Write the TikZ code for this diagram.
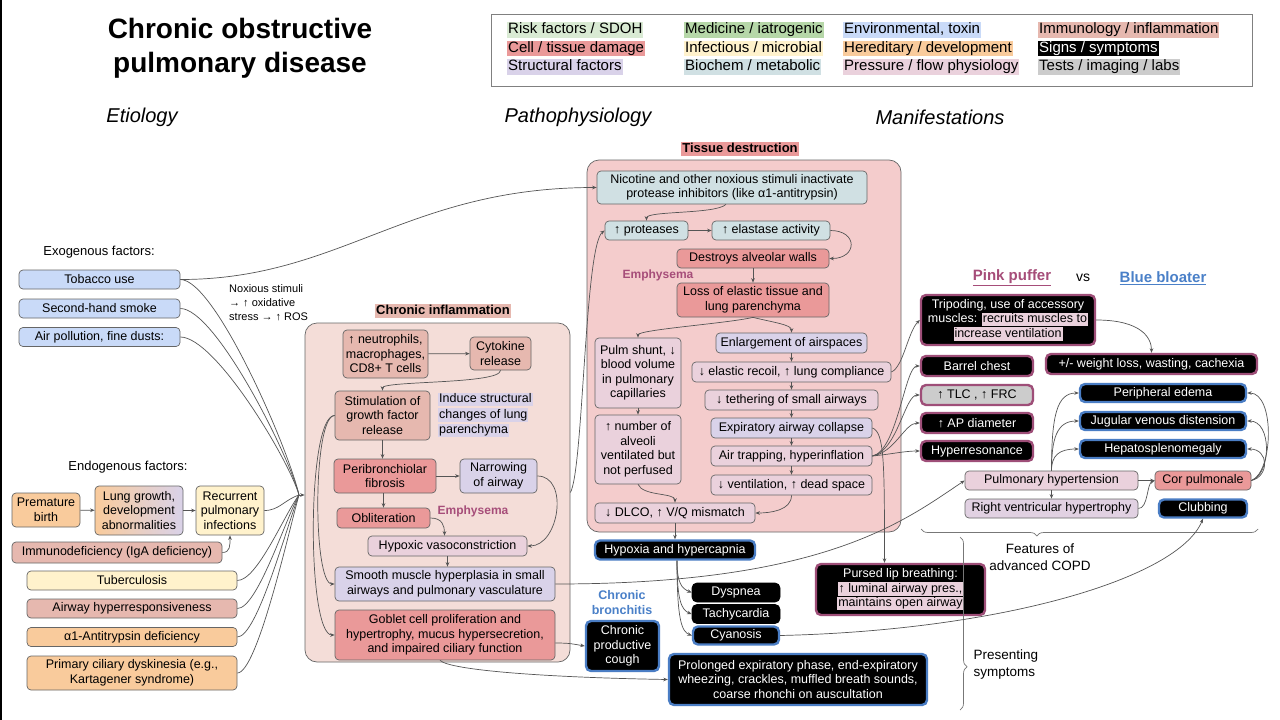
\documentclass[tikz,border=0pt]{standalone}
\usepackage{fontspec}
\setmainfont{Liberation Sans}
\usetikzlibrary{arrows.meta,calc,decorations.pathreplacing}
\definecolor{cRisk}{HTML}{D9EAD3}
\definecolor{cMed}{HTML}{B6D7A8}
\definecolor{cEnv}{HTML}{C9DAF8}
\definecolor{cImm}{HTML}{E6B8AF}
\definecolor{cCell}{HTML}{EA9999}
\definecolor{cInf}{HTML}{FFF2CC}
\definecolor{cHer}{HTML}{F9CB9C}
\definecolor{cStr}{HTML}{D9D2E9}
\definecolor{cBio}{HTML}{D0E0E3}
\definecolor{cPres}{HTML}{EAD1DC}
\definecolor{cTest}{HTML}{CCCCCC}
\definecolor{cCIbg}{HTML}{F4DDD8}
\definecolor{cTDbg}{HTML}{F4CCCC}
\definecolor{cBord}{HTML}{666666}
\definecolor{cLine}{HTML}{555555}
\definecolor{cBlue}{HTML}{4A7DC4}
\definecolor{cPink}{HTML}{9E4E78}
\definecolor{cEmph}{HTML}{A64D79}
\definecolor{cBlueT}{HTML}{4A80C8}
\definecolor{cBrace}{HTML}{777777}
\setlength{\fboxsep}{1pt}
\newcommand\fsz[2]{\fontsize{#1}{#2}\selectfont}
\newcommand\hlc[2]{\colorbox{#1}{#2\vphantom{Ay}}}
\begin{document}
\begin{tikzpicture}[x=1pt,y=-1pt,
 bx/.style={draw=cBord, line width=0.7pt, rounded corners=4pt, align=center, inner sep=1pt, font=\fsz{12.5}{14.5}},
 sz/.style 2 args={minimum width=#1pt, minimum height=#2pt},
 sy/.style={fill=black, text=white, rounded corners=5pt, line width=2.4pt, align=center, inner sep=1pt, font=\fsz{12.5}{14.5}},
 syb/.style={sy, draw=cBlue},
 syp/.style={sy, draw=cPink},
 syk/.style={sy, draw=black, line width=0.8pt},
 con/.style={draw=cLine, line width=0.7pt},
 arr/.style={con, -{Stealth[length=4.5pt,width=3.6pt]}},
 lbl/.style={font=\fsz{13}{15.5}, align=center},
 cont/.style={draw=cBord, line width=0.7pt, rounded corners=12pt},
 leg/.style={font=\fsz{15}{17}, inner sep=0pt, anchor=west},
 sec/.style={font=\itshape\fsz{20}{24}},
 brc/.style={draw=cBrace, line width=0.7pt, decorate},
]
\fill[white] (0,0) rectangle (1280,720);
\useasboundingbox (0,0) rectangle (1280,720);
\draw[black, line width=1.5pt] (0.75,0) -- (0.75,720);

% ---------- title and legend ----------
\node[font=\bfseries\fsz{28}{34}, align=center] (title) at (240,48) {Chronic obstructive\\pulmonary disease};
\node[draw=gray, line width=0.8pt, sz={761}{72}] (legend) at (871.5,50) {};
\node[leg] (l1) at (507,30) {\hlc{cRisk}{Risk factors / SDOH}};
\node[leg] (l2) at (507,48.5) {\hlc{cCell}{Cell / tissue damage}};
\node[leg] (l3) at (507,67) {\hlc{cStr}{Structural factors}};
\node[leg] (l4) at (684,30) {\hlc{cMed}{Medicine / iatrogenic}};
\node[leg] (l5) at (684,48.5) {\hlc{cInf}{Infectious / microbial}};
\node[leg] (l6) at (684,67) {\hlc{cBio}{Biochem / metabolic}};
\node[leg] (l7) at (843,30) {\hlc{cEnv}{Environmental, toxin}};
\node[leg] (l8) at (843,48.5) {\hlc{cHer}{Hereditary / development}};
\node[leg] (l9) at (843,67) {\hlc{cPres}{Pressure / flow physiology}};
\node[leg] (l10) at (1038,30) {\hlc{cImm}{Immunology / inflammation}};
\node[leg] (l11) at (1038,48.5) {\hlc{black}{\color{white}Signs / symptoms}};
\node[leg] (l12) at (1038,67) {\hlc{cTest}{Tests / imaging / labs}};

% ---------- section headings ----------
\node[sec] (etio) at (142,117) {Etiology};
\node[sec] (patho) at (578,117) {Pathophysiology};
\node[sec] (mani) at (940,117) {Manifestations};

% ---------- etiology ----------
\node[lbl] (exo) at (99,252) {Exogenous factors:};
\node[bx, fill=cEnv, sz={161}{19}] (tob) at (99.5,279.5) {Tobacco use};
\node[bx, fill=cEnv, sz={161}{19}] (shs) at (99.5,308.5) {Second-hand smoke};
\node[bx, fill=cEnv, sz={161}{19}] (air) at (99.5,337) {Air pollution, fine dusts:};
\node[font=\fsz{11}{14}, align=left, anchor=north west, inner sep=0pt] (nox) at (229,284) {Noxious stimuli\\→ ↑ oxidative\\stress → ↑ ROS};

\node[lbl] (endo) at (128,467) {Endogenous factors:};
\node[bx, fill=cHer, sz={68}{34}] (prem) at (46,510) {Premature\\birth};
\node[bx, left color=cHer, right color=cStr, sz={88}{49}] (lung) at (139,510.5) {Lung growth,\\development\\abnormalities};
\node[bx, fill=cInf, sz={68}{49}] (recur) at (230,510.5) {Recurrent\\pulmonary\\infections};
\node[bx, fill=cImm, sz={210}{21}] (immu) at (117,552.5) {Immunodeficiency (IgA deficiency)};
\node[bx, fill=cInf, sz={210}{19}] (tb) at (132,580.5) {Tuberculosis};
\node[bx, fill=cImm, sz={210}{19}] (ahr) at (132,608.5) {Airway hyperresponsiveness};
\node[bx, fill=cHer, sz={210}{19}] (a1at) at (132,637) {α1-Antitrypsin deficiency};
\node[bx, fill=cHer, sz={210}{34}] (pcd) at (132,673) {Primary ciliary dyskinesia (e.g.,\\Kartagener syndrome)};

% ---------- chronic inflammation ----------
\node[cont, fill=cCIbg, sz={265}{339}] (ci) at (437.5,492.5) {};
\node[font=\bfseries\fsz{13}{15}, inner sep=0pt] (cih) at (443,311) {\hlc{cImm}{Chronic inflammation}};
\node[bx, fill=cImm, sz={85}{48}] (neut) at (385.5,354) {↑ neutrophils,\\macrophages,\\CD8+ T cells};
\node[bx, fill=cImm, sz={61}{33}] (cyt) at (500.5,353.5) {Cytokine\\release};
\node[bx, fill=cImm, sz={95}{49}] (stim) at (382.5,415.5) {Stimulation of\\growth factor\\release};
\node[font=\fsz{12.5}{15.5}, align=left, anchor=west, inner sep=0pt] (induce) at (438,415) {\hlc{cStr}{Induce structural}\\\hlc{cStr}{changes of lung}\\\hlc{cStr}{parenchyma}};
\node[bx, fill=cCell, sz={102}{34}] (peri) at (385,476) {Peribronchiolar\\fibrosis};
\node[bx, fill=cStr, sz={77}{34}] (narrow) at (498.5,476) {Narrowing\\of airway};
\node[bx, fill=cCell, sz={93}{20}] (oblit) at (383.5,518) {Obliteration};
\node[font=\bfseries\fsz{12}{14}, text=cEmph] (emph1) at (473,511) {Emphysema};
\node[bx, fill=cPres, sz={159}{20}] (hyp) at (447.5,546) {Hypoxic vasoconstriction};
\node[bx, fill=cStr, sz={220}{34}] (smooth) at (445,584) {Smooth muscle hyperplasia in small\\airways and pulmonary vasculature};
\node[bx, fill=cCell, sz={220}{50}] (goblet) at (445,635) {Goblet cell proliferation and\\hypertrophy, mucus hypersecretion,\\and impaired ciliary function};

% ---------- tissue destruction ----------
\node[cont, fill=cTDbg, sz={314}{372}] (td) at (744,346) {};
\node[font=\bfseries\fsz{13}{15}, inner sep=0pt] (tdh) at (740,149) {\hlc{cCell}{Tissue destruction}};
\node[bx, fill=cBio, sz={270}{33}] (nic) at (732,187.5) {Nicotine and other noxious stimuli inactivate\\protease inhibitors (like α1-antitrypsin)};
\node[bx, fill=cBio, sz={83}{19}] (prot) at (646.5,230.5) {↑ proteases};
\node[bx, fill=cBio, sz={118}{19}] (elast) at (771,230.5) {↑ elastase activity};
\node[bx, fill=cCell, sz={152}{19}] (destr) at (753,258.5) {Destroys alveolar walls};
\node[font=\bfseries\fsz{12}{14}, text=cEmph] (emph2) at (658,275) {Emphysema};
\node[bx, fill=cCell, sz={152}{34}] (loss) at (753,300) {Loss of elastic tissue and\\lung parenchyma};
\node[bx, fill=cPres, sz={86}{70}] (pulm) at (638,373) {Pulm shunt, ↓\\blood volume\\in pulmonary\\capillaries};
\node[bx, fill=cPres, sz={86}{69}] (alv) at (638,449.5) {↑ number of\\alveoli\\ventilated but\\not perfused};
\node[bx, fill=cStr, sz={151}{20}] (enl) at (791.5,343) {Enlargement of airspaces};
\node[bx, fill=cPres, sz={199}{20}] (elr) at (791.5,372) {↓ elastic recoil, ↑ lung compliance};
\node[bx, fill=cPres, sz={173}{20}] (teth) at (791.5,400) {↓ tethering of small airways};
\node[bx, fill=cStr, sz={161}{20}] (coll) at (791.5,428) {Expiratory airway collapse};
\node[bx, fill=cPres, sz={161}{20}] (trap) at (791.5,456) {Air trapping, hyperinflation};
\node[bx, fill=cPres, sz={161}{20}] (vent) at (791.5,485) {↓ ventilation, ↑ dead space};
\node[bx, fill=cPres, sz={160}{20}] (dlco) at (675,513) {↓ DLCO, ↑ V/Q mismatch};

% ---------- manifestations ----------
\node[syb, sz={160}{19}] (hypox) at (675,550) {Hypoxia and hypercapnia};
\node[syk, sz={88}{19}] (dysp) at (736,592.5) {Dyspnea};
\node[syk, sz={88}{19}] (tach) at (736,614) {Tachycardia};
\node[syb, sz={86}{18}] (cyan) at (736,635.5) {Cyanosis};
\node[font=\bfseries\fsz{12.5}{15}, text=cBlueT, align=center] (chbr) at (622,603) {Chronic\\bronchitis};
\node[syb, sz={73}{50}] (cough) at (622.5,646) {Chronic\\productive\\cough};
\node[syb, sz={258}{51}] (prol) at (798,679.5) {Prolonged expiratory phase, end-expiratory\\wheezing, crackles, muffled breath sounds,\\coarse rhonchi on auscultation};
\node[syp, sz={169}{51}] (purs) at (900.5,589.5) {Pursed lip breathing:\\\hlc{cPres}{\color{black}↑ luminal airway pres.,}\\\hlc{cPres}{\color{black}maintains open airway}};

\node[font=\bfseries\fsz{15}{18}, text=cEmph] (pink) at (1012,278) {\underline{Pink puffer}};
\node[font=\fsz{14}{18}] (vs) at (1083,278) {vs};
\node[font=\bfseries\fsz{15}{18}, text=cBlueT] (blue) at (1163,278) {\underline{Blue bloater}};

\node[syp, sz={174}{50}] (trip) at (1008,320) {Tripoding, use of accessory\\muscles: \hlc{cPres}{\color{black}recruits muscles to}\\\hlc{cPres}{\color{black}increase ventilation}};
\node[syp, sz={112}{20}] (barrel) at (977,366) {Barrel chest};
\node[syp, sz={112}{20}, fill=cTest, text=black] (tlc) at (977,395) {↑ TLC , ↑ FRC};
\node[syp, sz={112}{20}] (apd) at (977,423) {↑ AP diameter};
\node[syp, sz={112}{20}] (hres) at (977,451) {Hyperresonance};
\node[syp, sz={211}{20}] (weight) at (1151.5,364) {+/- weight loss, wasting, cachexia};
\node[syb, sz={166}{18}] (edema) at (1163,393) {Peripheral edema};
\node[syb, sz={166}{18}] (jvd) at (1163,421) {Jugular venous distension};
\node[syb, sz={166}{18}] (hepato) at (1163,449) {Hepatosplenomegaly};
\node[bx, fill=cPres, sz={173}{19}] (pht) at (1051.5,480.5) {Pulmonary hypertension};
\node[bx, fill=cCell, sz={96}{19}] (cor) at (1203,480.5) {Cor pulmonale};
\node[bx, fill=cPres!50!cStr, sz={173}{19}] (rvh) at (1051.5,508.5) {Right ventricular hypertrophy};
\node[syb, sz={88}{18}] (club) at (1203,508.5) {Clubbing};

% ---------- braces ----------
\coordinate (bh1) at (921,529);
\coordinate (bh2) at (1258,529);
\draw[brc, decoration={brace, amplitude=7pt, aspect=0.344, mirror}] (bh1) -- (bh2);
\node[font=\fsz{13.5}{17}, align=center] (feat) at (1040,557) {Features of\\advanced COPD};
\coordinate (bv1) at (960,537);
\coordinate (bv2) at (960,710);
\draw[brc, decoration={brace, amplitude=7pt, aspect=0.75}] (bv1) -- (bv2);
\node[font=\fsz{13.5}{17}, align=left, anchor=west] (pres) at (970,665) {Presenting\\symptoms};

% ---------- etiology connectors ----------
\coordinate (hub) at (299,495);
\draw[arr] (hub) -- (ci.west |- hub);
\draw[con] (tob.east) .. controls +(35,0) and +(-10,-45) .. (hub);
\draw[con] (shs.east) .. controls +(35,0) and +(-10,-40) .. (hub);
\draw[con] (air.east) .. controls +(35,0) and +(-10,-35) .. (hub);
\draw[con] (recur.east) .. controls +(15,0) and +(-15,5) .. (hub);
\draw[con] (tb.east) .. controls +(20,0) and +(-15,20) .. (hub);
\draw[con] (ahr.east) .. controls +(20,0) and +(-14,25) .. (hub);
\draw[con] (a1at.east) .. controls +(20,0) and +(-12,30) .. (hub);
\draw[con] (pcd.east) .. controls +(20,0) and +(-10,35) .. (hub);
\draw[arr] (tob.east) .. controls +(160,0) and +(-190,0) .. (nic.west);
\draw[arr] (prem) -- (lung);
\draw[arr] (lung) -- (recur);
\draw[arr] (immu.east) .. controls +(8,0) and +(0,10) .. (recur.south);

% ---------- chronic inflammation connectors ----------
\draw[arr] (neut) -- (cyt);
\draw[arr] (cyt.south) .. controls +(0,14) and +(0,-10) .. (stim.north);
\draw[arr] (stim.south) -- (stim.south |- peri.north);
\draw[arr] (peri) -- (narrow);
\draw[arr] (oblit.north |- peri.south) -- (oblit.north);
\draw[arr] (oblit.east) .. controls +(12,0) and +(0,-10) .. ($(hyp.north)+(-3,0)$);
\draw[arr] (narrow.east) .. controls +(32,0) and +(32,0) .. (hyp.east);
\draw[arr] (hyp.south) -- (hyp.south |- smooth.north);
\draw[arr] (stim.west) .. controls +(-22,0) and +(-22,0) .. (smooth.west);
\draw[arr] (stim.west) .. controls +(-28,0) and +(-28,0) .. (goblet.west);
\draw[arr] ($(goblet.east)+(0,8)$) .. controls +(15,0) and +(-12,-2) .. (cough.west);
\draw[arr] ($(goblet.south)+(-5,0)$) .. controls +(10,10) and +(-120,-2) .. (prol.west);
\draw[arr] (smooth.east) .. controls +(270,0) and +(-60,40) .. (pht.west);
\draw[arr] (ci.east) .. controls +(13,-22) and +(-20,15) .. (prot.west);

% ---------- tissue destruction connectors ----------
\draw[arr] ($(nic.south)+(-6,0)$) .. controls +(-10,10) and +(0,-10) .. (prot.north);
\draw[arr] (prot) -- (elast);
\draw[arr] (elast.east) .. controls +(28,0) and +(28,0) .. (destr.east);
\draw[arr] (destr) -- (loss);
\draw[arr] (loss.south) .. controls +(-25,6) and +(0,-8) .. (pulm.north);
\draw[arr] (loss.south) .. controls +(20,5) and +(0,-8) .. (enl.north);
\draw[arr] (enl) -- (elr);
\draw[arr] (elr) -- (teth);
\draw[arr] (teth) -- (coll);
\draw[arr] (coll) -- (trap);
\draw[arr] (trap) -- (vent);
\draw[arr] (pulm) -- (alv);
\draw[arr] (alv.south) .. controls +(5,12) and +(0,-10) .. (dlco.north);
\draw[arr] (vent.south) .. controls +(0,15) and +(15,0) .. (dlco.east);
\draw[arr] (dlco) -- (hypox);

% ---------- manifestation connectors ----------
\draw[arr] (elr.east) .. controls +(12,-5) and +(-12,12) .. (trip.west);
\draw[arr] (trap.east) .. controls +(25,-5) and +(-15,0) .. (barrel.west);
\draw[arr] (trap.east) .. controls +(25,-5) and +(-15,0) .. (tlc.west);
\draw[arr] (trap.east) .. controls +(22,-3) and +(-15,0) .. (apd.west);
\draw[arr] (trap.east) .. controls +(20,-2) and +(-15,0) .. (hres.west);
\draw[arr] (coll.east) .. controls +(12,4) and +(0,-100) .. ($(purs.north)+(-16,0)$);
\draw[arr] (trip.east) .. controls +(45,0) and +(0,-15) .. (weight.north);
\draw[arr] ($(hypox.south)+(2,0)$) .. controls +(0,22) and +(-10,-4) .. (dysp.west);
\draw[arr] ($(hypox.south)+(2,0)$) .. controls +(0,40) and +(-10,-4) .. (tach.west);
\draw[arr] ($(hypox.south)+(2,0)$) .. controls +(0,60) and +(-10,-4) .. (cyan.west);
\draw[arr] (cyan.east) .. controls +(220,-5) and +(-25,60) .. (club.south);
\draw[arr] (pht.north) .. controls +(0,-55) and +(-22,0) .. (edema.west);
\draw[arr] (pht.north) .. controls +(0,-32) and +(-22,0) .. (jvd.west);
\draw[arr] (pht.north) .. controls +(0,-15) and +(-20,0) .. (hepato.west);
\draw[arr] (pht) -- (rvh);
\draw[arr] (pht) -- (cor);
\draw[arr] (rvh.east) .. controls +(10,0) and +(-8,3) .. (cor.west);
\draw[arr] (cor.east) .. controls +(22,-8) and +(28,0) .. (edema.east);
\draw[arr] (cor.east) .. controls +(20,-6) and +(25,0) .. (jvd.east);
\draw[arr] (cor.east) .. controls +(18,-4) and +(22,0) .. (hepato.east);
\end{tikzpicture}
\end{document}
